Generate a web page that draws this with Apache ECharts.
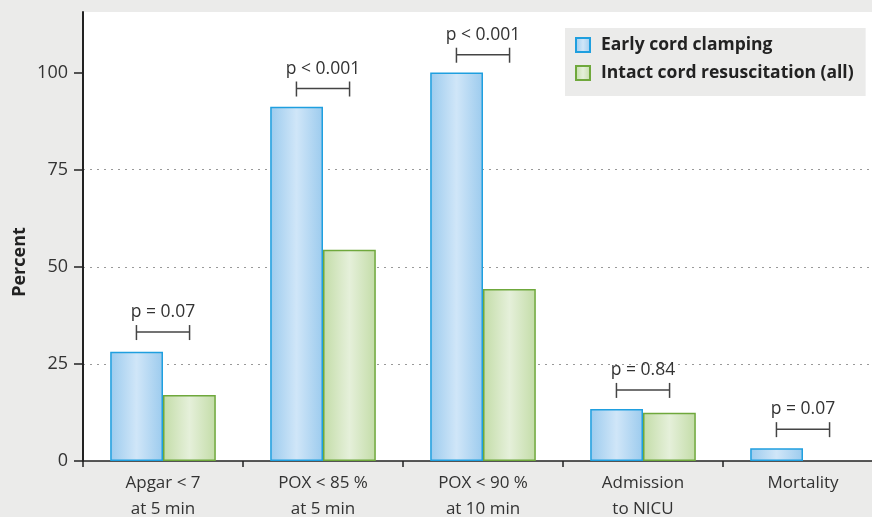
<!DOCTYPE html>
<html>
<head>
<meta charset="utf-8">
<script src="https://cdn.jsdelivr.net/npm/echarts@6/dist/echarts.min.js"></script>
<style>html,body{margin:0;padding:0;background:#ebebea;}#c{width:872px;height:517px;}</style>
</head>
<body>
<div id="c"></div>
<script>
const categories = ['Apgar < 7\nat 5 min', 'POX < 85 %\nat 5 min', 'POX < 90 %\nat 10 min', 'Admission\nto NICU', 'Mortality'];
const earlyClamping = [28.1, 91.2, 100, 13.4, 3.3];
const intactCord = [17.0, 54.4, 44.3, 12.4, 0];
const pLabels = ['p = 0.07', 'p < 0.001', 'p < 0.001', 'p = 0.84', 'p = 0.07'];
const bracketLevels = [33.2, 95.9, 104.6, 18.3, 8.2];
const yTicks = [0, 25, 50, 75, 100];

const FONT = '"Open Sans", sans-serif';
const chart = echarts.init(document.getElementById('c'), null, {renderer: 'canvas'});

function grad(edge, mid) {
  return new echarts.graphic.LinearGradient(0, 0, 1, 0, [
    {offset: 0, color: edge}, {offset: 0.5, color: mid}, {offset: 1, color: edge}
  ]);
}
// zero-height bars draw no outline
function barData(values) {
  return values.map(v => v === 0 ? {value: v, itemStyle: {borderWidth: 0}} : v);
}

const bracketData = categories.map((c, i) => [i, bracketLevels[i], pLabels[i]]);

chart.setOption({
  backgroundColor: '#ebebea',
  animation: false,
  textStyle: {fontFamily: FONT},
  grid: {left: 83, right: -11, top: 12, bottom: 56, show: true, backgroundColor: '#ffffff', borderWidth: 0, outerBoundsMode: 'none', containLabel: false},
  legend: {
    orient: 'vertical', left: 565, top: 28,
    backgroundColor: '#ebebea',
    padding: [8, 12, 14, 10],
    icon: 'rect',
    itemWidth: 14, itemHeight: 14, itemGap: 10,
    data: ['Early cord clamping', 'Intact cord resuscitation (all)'],
    textStyle: {fontFamily: FONT, fontSize: 17.5, fontWeight: 'bold', color: '#222', lineHeight: 18, padding: [0, 0, 0, 6]}
  },
  xAxis: {
    type: 'category', data: categories,
    axisLine: {lineStyle: {color: '#222', width: 1.5}},
    axisTick: {show: true, length: 6, lineStyle: {color: '#222', width: 1.5}},
    axisLabel: {fontFamily: FONT, fontSize: 17, color: '#333', lineHeight: 26, margin: 9, interval: 0}
  },
  yAxis: {
    type: 'value', min: 0, max: 115.6, interval: 25,
    name: '',
    axisLine: {show: true, lineStyle: {color: '#222', width: 2}},
    axisTick: {show: true, length: 9, customValues: yTicks, lineStyle: {color: '#222', width: 1.5}},
    axisLabel: {fontFamily: FONT, fontSize: 18, color: '#333', margin: 15, customValues: yTicks},
    splitLine: {show: true, showMinLine: false, showMaxLine: false, lineStyle: {color: '#999', type: [2, 5], width: 1}}
  },
  graphic: [{
    type: 'text', rotation: Math.PI / 2,
    style: {text: 'Percent', fontFamily: FONT, fontSize: 18, fontWeight: 'bold', fill: '#222', align: 'center', verticalAlign: 'middle'},
    x: 20, y: 262
  }],
  series: [
    {
      name: 'Early cord clamping', type: 'bar', data: barData(earlyClamping),
      barGap: '0%', barCategoryGap: '34%',
      itemStyle: {color: grad('#9ccbee', '#d0e6f8'), borderColor: '#1f9fdf', borderWidth: 1.5}
    },
    {
      name: 'Intact cord resuscitation (all)', type: 'bar', data: barData(intactCord),
      barGap: '0%', barCategoryGap: '34%',
      itemStyle: {color: grad('#c3dca7', '#e5f0da'), borderColor: '#6fa83c', borderWidth: 1.5}
    },
    {
      type: 'custom', name: 'brackets', data: bracketData, z: 5,
      encode: {x: 0, y: 1},
      renderItem: function (params, api) {
        const pt = api.coord([api.value(0), api.value(1)]);
        const band = api.size([1, 0])[0];
        const half = band * 0.166;
        const x1 = pt[0] - half, x2 = pt[0] + half, y = pt[1];
        const ls = {stroke: '#444', lineWidth: 1.5};
        return {
          type: 'group',
          children: [
            {type: 'line', shape: {x1: x1, y1: y, x2: x2, y2: y}, style: ls},
            {type: 'line', shape: {x1: x1, y1: y - 7, x2: x1, y2: y + 8}, style: ls},
            {type: 'line', shape: {x1: x2, y1: y - 7, x2: x2, y2: y + 8}, style: ls},
            {type: 'text', x: pt[0], y: y - 20, style: {text: bracketData[params.dataIndex][2], fontFamily: FONT, fontSize: 17.5, fill: '#333', align: 'center', verticalAlign: 'middle'}}
          ]
        };
      }
    }
  ]
});
</script>
</body>
</html>
